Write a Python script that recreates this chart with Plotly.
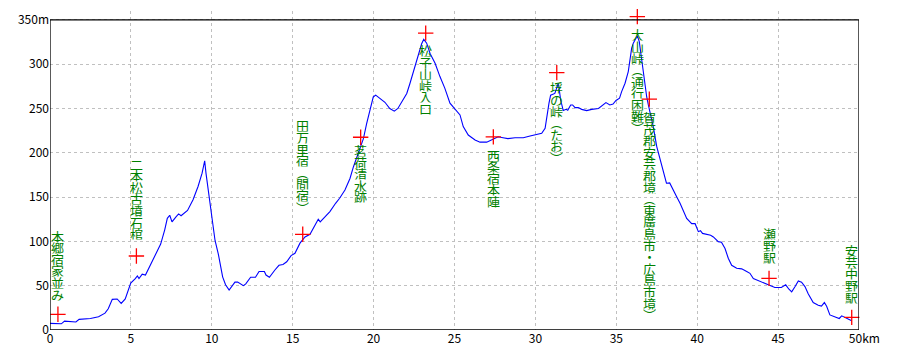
import plotly.graph_objects as go

# Elevation profile (distance in km, elevation in m)
dist_km = [0.0, 0.7, 0.9, 1.6, 1.8, 2.1, 2.5, 3.0, 3.4, 3.6, 3.85, 4.15, 4.4, 4.65, 4.99,
           5.27, 5.4, 5.5, 5.7, 5.9, 6.06, 6.47, 6.84, 7.09, 7.25, 7.4, 7.54, 7.8, 7.95, 8.1,
           8.36, 8.5, 8.84, 9.15, 9.4, 9.56, 9.64, 9.85, 9.97, 10.2, 10.4, 10.67, 10.85, 11.07,
           11.43, 11.6, 11.95, 12.1, 12.4, 12.7, 12.92, 13.25, 13.35, 13.56, 13.9, 14.15, 14.4,
           14.63, 14.9, 15.14, 15.45, 15.76, 16.07, 16.38, 16.58, 16.7, 17.0, 17.3, 17.65, 17.9,
           18.23, 18.54, 18.75, 19.05, 19.37, 19.57, 19.78, 19.98, 20.13, 20.4, 20.7, 21.0, 21.28,
           21.5, 21.74, 22.05, 22.25, 22.56, 22.76, 22.97, 23.1, 23.28, 23.49, 23.8, 24.1, 24.4,
           24.72, 25.03, 25.34, 25.54, 25.85, 26.27, 26.58, 26.99, 27.4, 27.7, 28.0, 28.3, 28.74,
           29.25, 29.67, 29.97, 30.39, 30.6, 30.7, 30.84, 30.94, 31.2, 31.42, 31.56, 31.72, 31.9,
           32.0, 32.18, 32.3, 32.45, 32.65, 32.86, 33.17, 33.48, 33.9, 34.16, 34.36, 34.6, 34.8,
           34.98, 35.2, 35.33, 35.54, 35.74, 35.85, 35.95, 36.05, 36.2, 36.3, 36.42, 36.57, 36.67,
           36.78, 36.88, 36.98, 37.19, 37.29, 37.5, 37.7, 37.87, 38.1, 38.3, 38.5, 38.73, 38.94,
           39.14, 39.35, 39.66, 39.87, 40.07, 40.2, 40.33, 40.47, 40.83, 41.0, 41.3, 41.5, 41.72,
           41.92, 42.13, 42.44, 42.75, 43.06, 43.26, 43.47, 43.78, 44.09, 44.5, 44.8, 45.2, 45.47,
           45.67, 45.84, 46.05, 46.25, 46.45, 46.66, 46.86, 47.17, 47.48, 47.68, 47.86, 48.0,
           48.2, 48.5, 48.78, 48.93, 49.14, 49.33, 49.55]
elev_m = [7.5, 7, 10, 9, 12, 12.5, 13, 15, 19, 24, 34.6, 35, 30, 35, 53,
          58, 61, 58, 63, 62, 68, 83, 97, 113, 126, 129.5, 122, 128, 131, 129,
          132.5, 135, 147, 162, 177, 191, 177, 149, 128, 101, 86, 60, 51, 45,
          54, 54, 50, 52, 59.5, 59.5, 66, 66, 62, 59.5, 67.7, 73, 74,
          77, 84, 86.6, 98, 105, 108, 118, 125, 122, 128, 133.6, 143, 148.7,
          158, 171, 184, 199.5, 216, 233, 250, 263, 265, 261.6, 257, 250, 247,
          250, 258, 267, 278.5, 299, 312, 323, 328, 323.7, 312, 301, 286, 273,
          256, 249, 242.7, 229.5, 220, 214.5, 212, 212, 215.6, 218, 217, 216, 217,
          217, 219, 220, 222, 227.7, 241, 256, 265, 267, 278.5, 259.7, 247.6, 249,
          248, 254, 254, 251, 251, 249, 247.6, 249, 250, 254, 256.6, 254, 255,
          259, 261.6, 269, 278.5, 291.6, 308.5, 318, 323.7, 329, 332, 325.5, 305, 290,
          275, 263, 254, 237, 229, 207, 192, 180.6, 165.6, 166, 158, 150.5, 143,
          133.6, 126, 120, 120, 111, 112, 109, 108.6, 107, 105, 99.7, 99, 92,
          81, 73, 69.6, 69, 66, 64, 58, 55.7, 54, 51, 48, 48, 51,
          46, 43, 49, 55.3, 54, 49, 41, 31, 28, 27, 31, 26.7,
          17, 15, 13, 16, 14.3, 13, 10.5]

# Points of interest
poi_names = ["本郷宿家並み", "二本松古墳石棺", "田万里宿（間宿）", "茗荷清水跡", "松子山峠入口",
             "西条宿本陣", "垺の峠（たお）", "大山峠（通行困難）",
             "賀茂郡安芸郡境（東廣島市・広島市境）", "瀬野駅", "安芸中野駅"]
poi_km = [0.49, 5.34, 15.62, 19.2, 23.22, 27.4, 31.32, 36.3, 37.04, 44.44, 49.55]
poi_elev = [17.7, 83.5, 108, 217.5, 335, 218, 290.5, 353.7, 260.5, 58.3, 14.3]

# Label placement style (direction and gap in px from the marker)
label_dir = ["up", "up", "up", "down", "down", "down", "down", "down", "down", "up", "up"]
label_gap = [14, 16, 21, 8, 12, 13, 10, 13, 13, 15, 14]

x_ticks = [0, 5, 10, 15, 20, 25, 30, 35, 40, 45, 50]
x_ticktext = ["0", "5", "10", "15", "20", "25", "30", "35", "40", "45", "\u00a0\u00a0\u00a0\u00a050km"]
y_ticks = [0, 50, 100, 150, 200, 250, 300, 350]
y_ticktext = ["0", "50", "100", "150", "200", "250", "300", "350m"]
Y_TOP = 350      # top of the framed plot
Y_VIEW = 360     # a little headroom above the frame for the marker above it

FONT = "Noto Sans CJK JP"
vert_map = {"（": "︵", "）": "︶"}

fig = go.Figure()
fig.add_trace(go.Scatter(x=dist_km, y=elev_m, mode="lines",
                         line=dict(color="#0000ff", width=1.1), hoverinfo="skip",
                         showlegend=False))
fig.add_trace(go.Scatter(x=poi_km, y=poi_elev, mode="markers",
                         marker=dict(symbol="cross-thin", size=11,
                                     line=dict(color="#ff0000", width=1.3)),
                         cliponaxis=False, showlegend=False, hoverinfo="skip"))

pitch = 11.6
annotations = []
for name, xk, ye, d, gap in zip(poi_names, poi_km, poi_elev, label_dir, label_gap):
    chars = [vert_map.get(c, c) for c in name]
    n = len(chars)
    for i, c in enumerate(chars):
        if d == "down":
            shift = -(gap + pitch * (i + 0.5))
        else:
            shift = gap + pitch * (n - 1 - i + 0.5)
        annotations.append(dict(x=xk, y=ye, xref="x", yref="y", text=c, showarrow=False,
                                yshift=shift, xanchor="center", yanchor="middle",
                                height=pitch, valign="middle", borderpad=0,
                                font=dict(size=13, color="#008000", family=FONT)))

fig.add_shape(type="rect", xref="x", yref="y", x0=x_ticks[0], x1=x_ticks[-1],
              y0=y_ticks[0], y1=Y_TOP, line=dict(color="black", width=1.3), layer="above")

fig.update_layout(
    width=900, height=360,
    margin=dict(l=50, r=41, t=11, b=30),
    paper_bgcolor="white", plot_bgcolor="white",
    annotations=annotations,
    font=dict(family=FONT, size=12, color="black"),
    xaxis=dict(range=[0, 50], tickvals=x_ticks, ticktext=x_ticktext,
               showgrid=True, gridcolor="#c0c0c0", griddash="3px,3px", gridwidth=1,
               showline=False, zeroline=False, ticks="",
               tickfont=dict(size=12, family=FONT)),
    yaxis=dict(range=[0, Y_VIEW], tickvals=y_ticks, ticktext=y_ticktext,
               showgrid=True, gridcolor="#c0c0c0", griddash="3px,3px", gridwidth=1,
               showline=False, zeroline=False, ticks="",
               tickfont=dict(size=12, family=FONT)),
)

fig.write_html("out.html")
